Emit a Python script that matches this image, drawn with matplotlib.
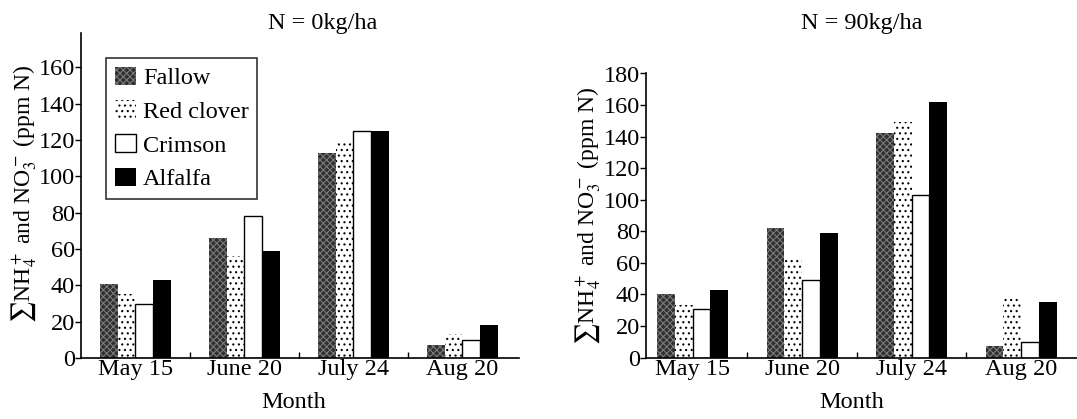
import numpy as np
import matplotlib.pyplot as plt

plt.rcParams['font.family'] = ['Liberation Serif', 'DejaVu Serif']
plt.rcParams['mathtext.fontset'] = 'stix'
plt.rcParams['hatch.linewidth'] = 0.8

# data
months = ['May 15', 'June 20', 'July 24', 'Aug 20']
crops = ['Fallow', 'Red clover', 'Crimson', 'Alfalfa']

n0_fallow = [41, 66, 113, 7]
n0_redclover = [35, 56, 119, 13]
n0_crimson = [30, 78, 125, 10]
n0_alfalfa = [43, 59, 125, 18]

n90_fallow = [40, 82, 142, 7]
n90_redclover = [33, 64, 149, 39]
n90_crimson = [31, 49, 103, 10]
n90_alfalfa = [43, 79, 162, 35]

styles = [
    dict(facecolor='#303030', edgecolor='#7a7a7a', hatch='xxxxx', linewidth=0),
    dict(facecolor='white', edgecolor='black', hatch='...', linewidth=0),
    dict(facecolor='white', edgecolor='black', linewidth=1.0),
    dict(facecolor='black', edgecolor='black', linewidth=0),
]

ylab = r'$\sum$NH$_4^+$ and NO$_3^-$ (ppm N)'
fs = 17.5

fig = plt.figure(figsize=(10.77, 4.19), dpi=100)
ax1 = fig.add_axes([81 / 1077, 61 / 419, 438 / 1077, 325 / 419])
ax2 = fig.add_axes([646 / 1077, 61.5 / 419, 431 / 1077, 284 / 419])

x = np.arange(len(months))
w = 0.162


def draw(ax, series, ymax, yticks, xlim):
    bars = []
    for i, vals in enumerate(series):
        b = ax.bar(x + (i - 1.5) * w, vals, w, **styles[i])
        bars.append(b)
    ax.set_xlim(*xlim)
    ax.set_ylim(0, ymax)
    ax.set_yticks(yticks)
    ax.set_xticks(x)
    ax.set_xticklabels(months, fontsize=fs)
    ax.tick_params(axis='x', length=0, pad=1)
    ax.set_xticks(x[:-1] + 0.5, minor=True)
    ax.tick_params(axis='x', which='minor', direction='in', length=4, width=1)
    ax.tick_params(axis='y', labelsize=fs, length=4, width=1, pad=0.5)
    for s in ['top', 'right']:
        ax.spines[s].set_visible(False)
    ax.spines['left'].set_linewidth(1.2)
    ax.spines['bottom'].set_linewidth(1.2)
    return bars


bars = draw(ax1, [n0_fallow, n0_redclover, n0_crimson, n0_alfalfa],
            179, np.arange(0, 161, 20), (-0.5, 3.52))
draw(ax2, [n90_fallow, n90_redclover, n90_crimson, n90_alfalfa],
     180, np.arange(0, 181, 20), (-0.425, 3.51))

leg = ax1.legend(bars, crops, loc='upper left', bbox_to_anchor=(0.058, 0.923),
                 borderaxespad=0, fontsize=fs, frameon=True, fancybox=False,
                 edgecolor='black', handlelength=0.85, handleheight=0.8,
                 handletextpad=0.3, labelspacing=0.45, borderpad=0.35)
leg.get_frame().set_linewidth(1.2)

fig.text(323 / 1077, 1 - 24 / 419, 'N = 0kg/ha', ha='center', va='center', fontsize=fs)
fig.text(862 / 1077, 1 - 24 / 419, 'N = 90kg/ha', ha='center', va='center', fontsize=fs)
fig.text(294 / 1077, 1 - 402 / 419, 'Month', ha='center', va='center', fontsize=fs)
fig.text(852 / 1077, 1 - 402 / 419, 'Month', ha='center', va='center', fontsize=fs)
fig.text(24 / 1077, 1 - 194 / 419, ylab, rotation=90, ha='center', va='center', fontsize=17)
fig.text(588 / 1077, 1 - 216 / 419, ylab, rotation=90, ha='center', va='center', fontsize=17)

plt.savefig('out.png', dpi=100)
